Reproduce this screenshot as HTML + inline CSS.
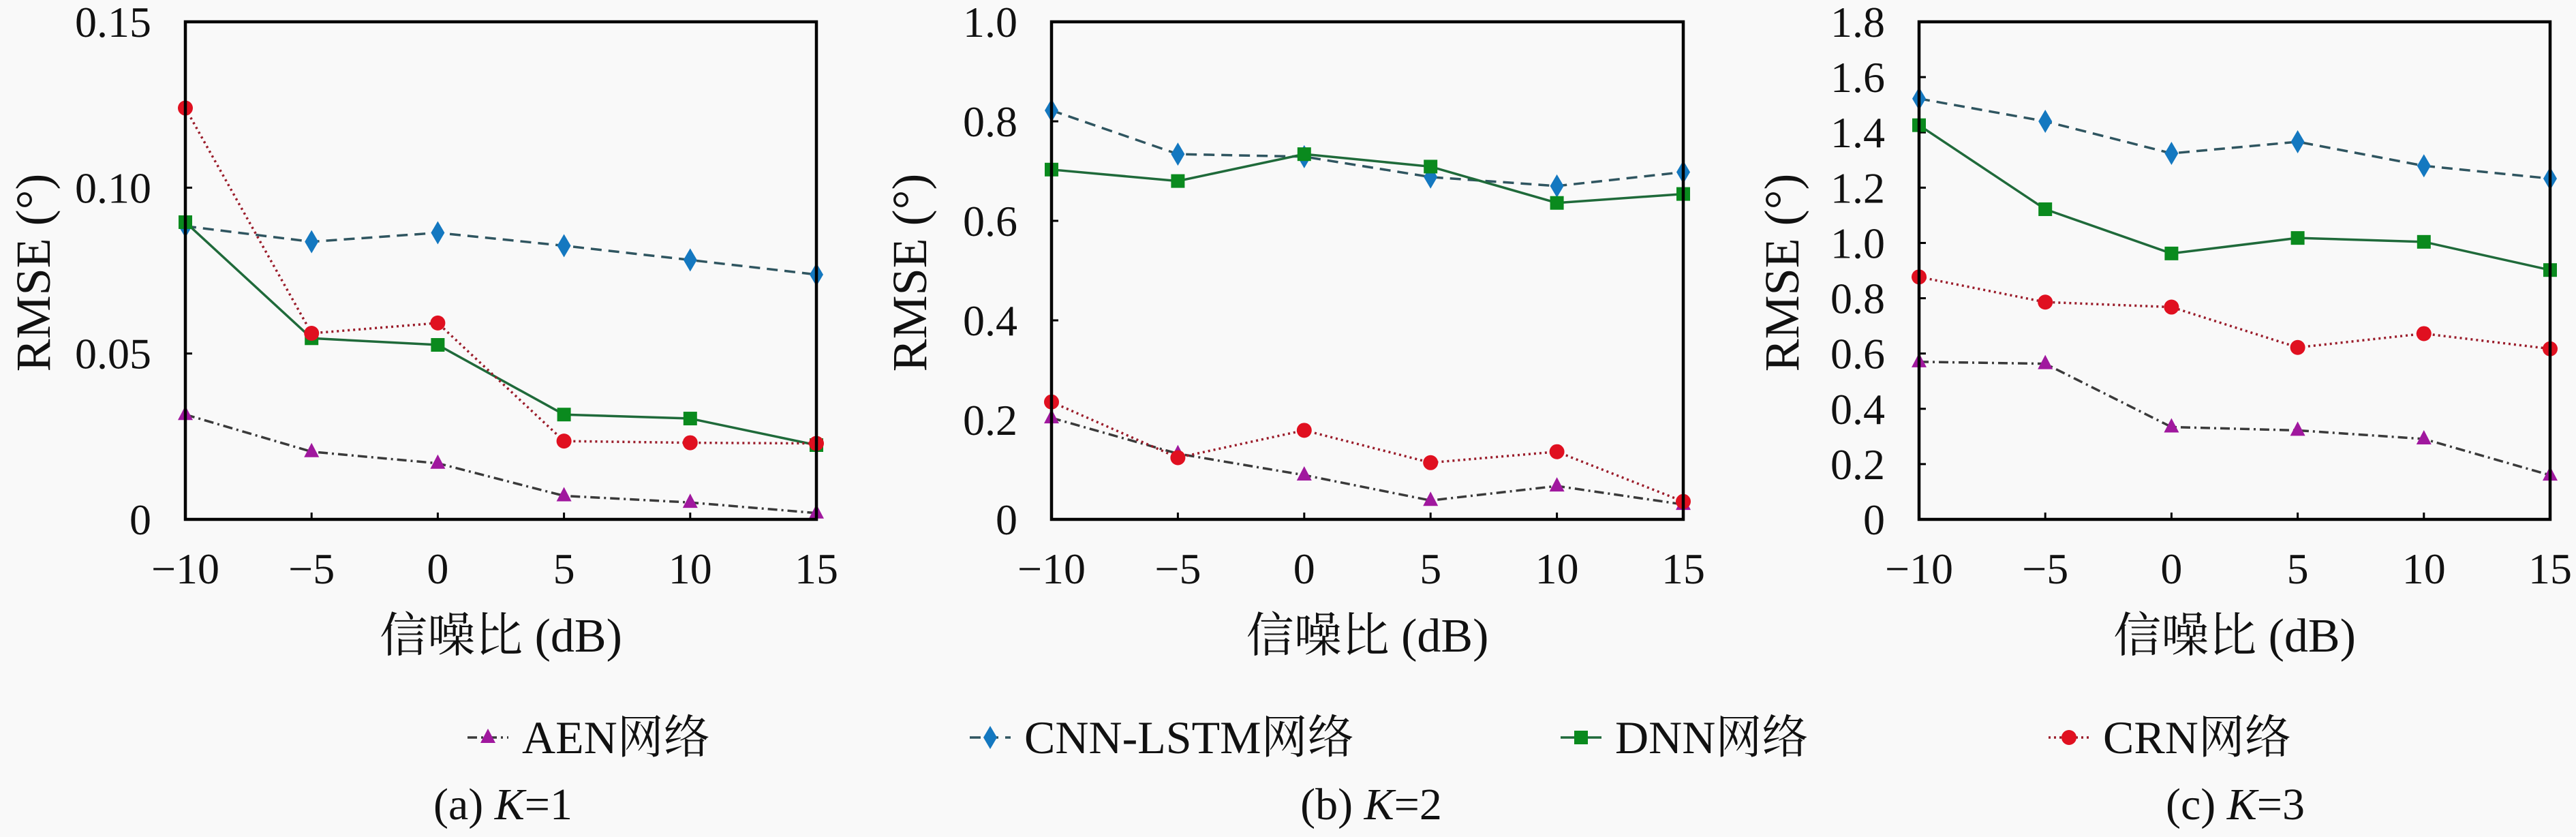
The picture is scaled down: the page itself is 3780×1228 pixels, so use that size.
<!DOCTYPE html>
<html><head><meta charset="utf-8"><style>
html,body{margin:0;padding:0;background:#f9f9f9;}
svg{display:block;}
svg text{font-family:"Liberation Serif","Noto Serif CJK SC",serif;fill:#111;}
</style></head><body>
<svg id="chart" width="3780" height="1228" viewBox="0 0 3780 1228" xmlns="http://www.w3.org/2000/svg" font-family="'Liberation Serif','Noto Serif CJK SC',serif"></svg>
<script>
const categories = [-10, -5, 0, 5, 10, 15];
const xTickLabels = ["\u221210", "\u22125", "0", "5", "10", "15"];
const seriesNames = ["AEN网络", "CNN-LSTM网络", "DNN网络", "CRN网络"];
// Panel (a) K=1
const aenK1 = [0.0316, 0.0204, 0.0169, 0.0071, 0.0051, 0.0019];
const cnnK1 = [0.0884, 0.0837, 0.0864, 0.0825, 0.0782, 0.0738];
const dnnK1 = [0.0896, 0.0546, 0.0526, 0.0316, 0.0304, 0.0224];
const crnK1 = [0.124, 0.0561, 0.0592, 0.0236, 0.0231, 0.0229];
const yTicksK1 = [0, 0.05, 0.10, 0.15];
const yTickLabelsK1 = ["0", "0.05", "0.10", "0.15"];
// Panel (b) K=2
const aenK2 = [0.204, 0.132, 0.089, 0.038, 0.067, 0.030];
const cnnK2 = [0.822, 0.734, 0.729, 0.688, 0.670, 0.698];
const dnnK2 = [0.703, 0.680, 0.734, 0.709, 0.636, 0.654];
const crnK2 = [0.236, 0.124, 0.179, 0.114, 0.136, 0.036];
const yTicksK2 = [0, 0.2, 0.4, 0.6, 0.8, 1.0];
const yTickLabelsK2 = ["0", "0.2", "0.4", "0.6", "0.8", "1.0"];
// Panel (c) K=3
const aenK3 = [0.570, 0.563, 0.334, 0.322, 0.291, 0.160];
const cnnK3 = [1.522, 1.440, 1.324, 1.366, 1.279, 1.233];
const dnnK3 = [1.426, 1.122, 0.962, 1.018, 1.004, 0.902];
const crnK3 = [0.877, 0.786, 0.768, 0.622, 0.672, 0.617];
const yTicksK3 = [0, 0.2, 0.4, 0.6, 0.8, 1.0, 1.2, 1.4, 1.6, 1.8];
const yTickLabelsK3 = ["0", "0.2", "0.4", "0.6", "0.8", "1.0", "1.2", "1.4", "1.6", "1.8"];

const NS = "http://www.w3.org/2000/svg";
const svg = document.getElementById("chart");
function mk(tag, attrs, parent) {
  const e = document.createElementNS(NS, tag);
  for (const k in attrs) e.setAttribute(k, attrs[k]);
  (parent || svg).appendChild(e);
  return e;
}
const styles = [
  {line: "#3a3a3a", dash: "14 6 3 6", marker: "tri", fill: "#a0189e"},
  {line: "#2f5560", dash: "16 10", marker: "dia", fill: "#1478c0"},
  {line: "#1f6a3a", dash: "", marker: "sq", fill: "#0a8a1e"},
  {line: "#9a1c2a", dash: "3 5", marker: "circ", fill: "#e01020"}
];
function marker(g, type, x, y, fill) {
  let m;
  if (type === "tri") m = mk("polygon", {points: `${x},${y-13} ${x-11},${y+8} ${x+11},${y+8}`, fill: fill}, g);
  else if (type === "dia") m = mk("polygon", {points: `${x},${y-17} ${x+10},${y} ${x},${y+17} ${x-10},${y}`, fill: fill}, g);
  else if (type === "sq") m = mk("rect", {x: x-10, y: y-10, width: 20, height: 20, fill: fill}, g);
  else m = mk("circle", {cx: x, cy: y, r: 11, fill: fill}, g);
  return m;
}
const panels = [
  {L: 272, R: 1198, ymax: 0.15, ticks: yTicksK1, labels: yTickLabelsK1, data: [aenK1, cnnK1, dnnK1, crnK1], ytx: 48, name: "k1"},
  {L: 1543, R: 2470, ymax: 1.0, ticks: yTicksK2, labels: yTickLabelsK2, data: [aenK2, cnnK2, dnnK2, crnK2], ytx: 1334, name: "k2"},
  {L: 2816, R: 3742, ymax: 1.8, ticks: yTicksK3, labels: yTickLabelsK3, data: [aenK3, cnnK3, dnnK3, crnK3], ytx: 2614, name: "k3"}
];
const T = 32, B = 762;
panels.forEach(p => {
  const g = mk("g", {});
  
  
  const xs = v => p.L + (v - categories[0]) / (categories[categories.length-1] - categories[0]) * (p.R - p.L);
  const ys = v => B - v / p.ymax * (B - T);
  p.ticks.forEach((t, i) => {
    const y = ys(t);
    mk("line", {x1: p.L, x2: p.L + 10, y1: y, y2: y, stroke: "#000", "stroke-width": 3}, g);
    const tx = mk("text", {x: p.L - 50, y: y + 22, "text-anchor": "end", "font-size": 64}, g);
    tx.textContent = p.labels[i];
    
    
  });
  categories.forEach((c, i) => {
    const x = xs(c);
    mk("line", {x1: x, x2: x, y1: B, y2: B - 10, stroke: "#000", "stroke-width": 3}, g);
    const tx = mk("text", {x: x, y: 856, "text-anchor": "middle", "font-size": 64}, g);
    tx.textContent = xTickLabels[i];
    
    
  });
  p.data.forEach((vals, si) => {
    const st = styles[si];
    const sg = mk("g", {}, g);
    
    
    const pts = vals.map((v, i) => `${xs(categories[i])},${ys(v)}`).join(" ");
    const pl = mk("polyline", {points: pts, fill: "none", stroke: st.line, "stroke-width": 3.5}, sg);
    if (st.dash) pl.setAttribute("stroke-dasharray", st.dash);
    vals.forEach((v, i) => {
      const m = marker(sg, st.marker, xs(categories[i]), ys(v), st.fill);
      
      
    });
  });
  const fr = mk("rect", {x: p.L, y: T, width: p.R - p.L, height: B - T, fill: "none", stroke: "#000", "stroke-width": 4.5}, g);
  
  
  const xt = mk("text", {x: (p.L + p.R) / 2, y: 956, "text-anchor": "middle", "font-size": 70}, g);
  xt.textContent = "信噪比 (dB)";
  
  
  const yt = mk("text", {x: 0, y: 0, "text-anchor": "middle", "font-size": 72, transform: `translate(${p.ytx + 25},400) rotate(-90)`}, g);
  yt.textContent = "RMSE (°)";
  
  
});
const legX = [716, 1453, 2320, 3036];
seriesNames.forEach((n, i) => {
  const st = styles[i];
  const g = mk("g", {});
  
  
  const ln = mk("line", {x1: legX[i] - 30, x2: legX[i] + 30, y1: 1082, y2: 1082, stroke: st.line, "stroke-width": 3.5}, g);
  if (st.dash) ln.setAttribute("stroke-dasharray", st.dash);
  marker(g, st.marker, legX[i], 1082, st.fill);
  const t = mk("text", {x: legX[i] + 50, y: 1105, "font-size": 68}, g);
  t.textContent = n;
});
const capX = [738, 2012, 3280];
const capK = ["1", "2", "3"];
const capL = ["(a) ", "(b) ", "(c) "];
capX.forEach((x, i) => {
  const t = mk("text", {x: x, y: 1202, "text-anchor": "middle", "font-size": 66});
  
  
  const a = mk("tspan", {}, t); a.textContent = capL[i];
  const k = mk("tspan", {"font-style": "italic"}, t); k.textContent = "K";
  const b = mk("tspan", {}, t); b.textContent = "=" + capK[i];
});
</script>
</body></html>
